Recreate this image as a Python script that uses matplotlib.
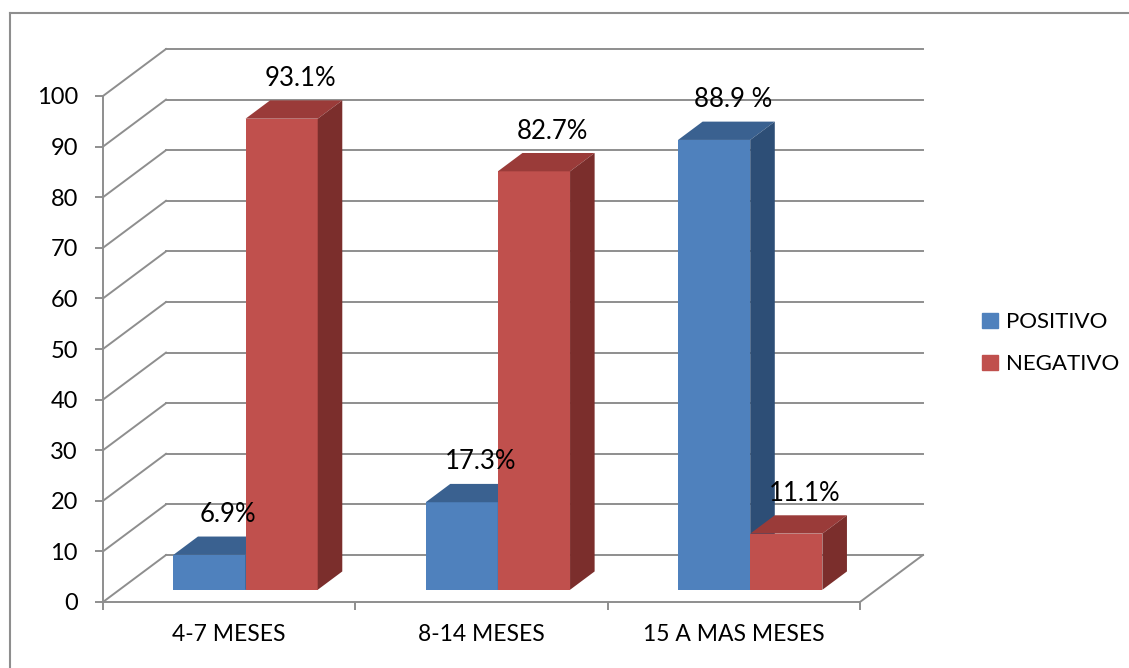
import matplotlib.pyplot as plt
from matplotlib.patches import Polygon, Patch
from matplotlib.transforms import IdentityTransform, ScaledTranslation
from matplotlib.lines import Line2D

plt.rcParams['font.family'] = ['Lato', 'DejaVu Sans']

categorias = ['4-7 MESES', '8-14 MESES', '15 A MAS MESES']
positivo = [6.9, 17.3, 88.9]
negativo = [93.1, 82.7, 11.1]
etiq_pos = ['6.9%', '17.3%', '88.9 %']
etiq_neg = ['93.1%', '82.7%', '11.1%']

# kleuren (front, top, side)
azul = ('#4F81BD', '#3A6190', '#2D4E76')
rojo = ('#C0504D', '#9A3B39', '#7B2E2C')
gris = '#8E8E8E'

# diepte van de 3D-vloer in pixels (rechts, omhoog)
DX, DY = 63, 47
BAR_D0, BAR_D1 = 0.26, 0.65
W = 0.286

fig = plt.figure(figsize=(11.29, 6.68), dpi=100)
ax = fig.add_axes([103 / 1129, 1 - 602 / 668, 757 / 1129, 506 / 668])
ax.set_xlim(-0.5, 2.5)
ax.set_ylim(0, 100)
ax.patch.set_alpha(0)


def px(x, y, d):
    X, Y = ax.transData.transform((x, y))
    return (X + d * DX, Y + d * DY)


def poly(pts, color, z):
    p = Polygon(pts, closed=True, facecolor=color, edgecolor='none',
                transform=IdentityTransform(), zorder=z, clip_on=False)
    ax.add_patch(p)


def line(p0, p1, z=1):
    ax.add_line(Line2D([p0[0], p1[0]], [p0[1], p1[1]], color=gris, lw=1.4,
                       transform=IdentityTransform(), zorder=z, clip_on=False))


# achterwand + zijwand rasterlijnen
for v in range(0, 101, 10):
    line(px(-0.5, v, 1), px(2.5, v, 1))
    line(px(-0.5, v, 0), px(-0.5, v, 1))
line(px(2.5, 0, 0), px(2.5, 0, 1))


def bar3d(x0, h, cols, z):
    x1 = x0 + W
    a = px(x0, 0, BAR_D0); b = px(x1, 0, BAR_D0)
    c = px(x1, h, BAR_D0); d = px(x0, h, BAR_D0)
    c2 = px(x1, h, BAR_D1); d2 = px(x0, h, BAR_D1); b2 = px(x1, 0, BAR_D1)
    poly([a, b, c, d], cols[0], z)
    poly([d, c, c2, d2], cols[1], z)
    poly([b, b2, c2, c], cols[2], z)


for i in range(len(categorias)):
    bar3d(i - W, positivo[i], azul, 3 + 2 * i)
    bar3d(i, negativo[i], rojo, 4 + 2 * i)

# waarde-labels
off = ScaledTranslation(0.35, 0.40, fig.dpi_scale_trans)
for i in range(len(categorias)):
    for xc, v, lab in [(i - W / 2, positivo[i], etiq_pos[i]),
                       (i + W / 2, negativo[i], etiq_neg[i])]:
        ax.text(xc, v, lab, ha='center', va='bottom', fontsize=18.5,
                transform=ax.transData + off, zorder=20, clip_on=False)

# assen
for s in ['top', 'right']:
    ax.spines[s].set_visible(False)
for s in ['left', 'bottom']:
    ax.spines[s].set_color(gris)
    ax.spines[s].set_linewidth(1.4)
ax.set_yticks(range(0, 101, 10))
ax.tick_params(axis='y', colors=gris, labelcolor='black', labelsize=17,
               length=6, width=1.4, pad=12)
ax.set_xticks([-0.5, 0.5, 1.5, 2.5])
ax.set_xticklabels([])
ax.tick_params(axis='x', which='major', colors=gris, length=6, width=1.4)
ax.set_xticks(range(len(categorias)), minor=True)
ax.set_xticklabels(categorias, minor=True)
ax.tick_params(axis='x', which='minor', length=0, labelsize=16.5, pad=16)

# legenda
fig.legend(handles=[Patch(color=azul[0], label='POSITIVO'),
                    Patch(color=rojo[0], label='NEGATIVO')],
           loc='center left', bbox_to_anchor=(962 / 1129, 0.486), frameon=False,
           fontsize=16, handlelength=0.7, handleheight=0.7, handletextpad=0.4,
           labelspacing=1.0)

# kader
fig.add_artist(Line2D([10 / 1129, 1], [1 - 13 / 668, 1 - 13 / 668], color=gris,
                      lw=1.5, transform=fig.transFigure))
fig.add_artist(Line2D([10 / 1129, 10 / 1129], [0, 1 - 13 / 668], color=gris,
                      lw=1.5, transform=fig.transFigure))

fig.savefig('out.png', dpi=100)
